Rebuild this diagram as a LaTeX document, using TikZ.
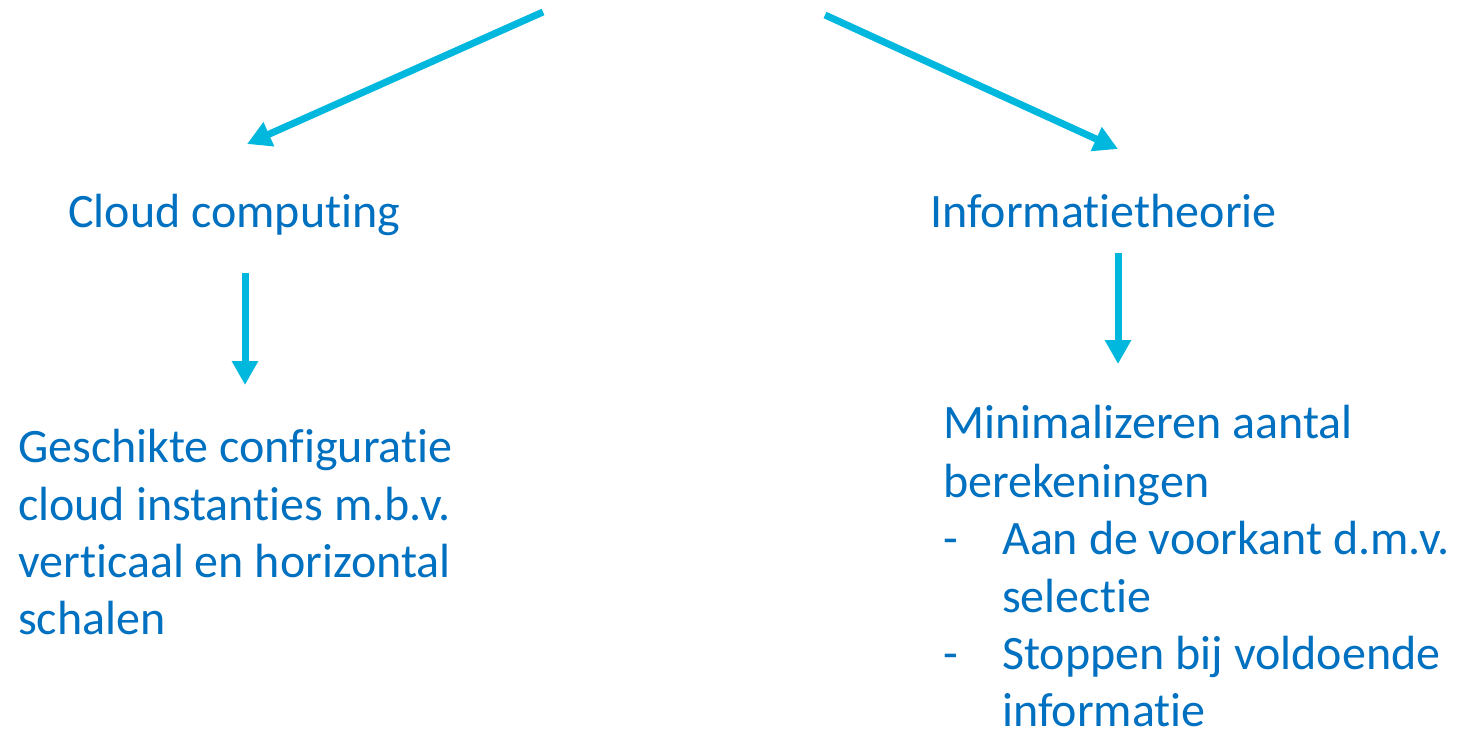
\documentclass[tikz,border=0pt]{standalone}
\usepackage{fontspec}
\setmainfont{Carlito}[Ligatures=NoCommon]
\usetikzlibrary{arrows.meta}
\definecolor{arrowcyan}{RGB}{0,183,222}
\definecolor{textblue}{RGB}{0,112,192}
\begin{document}
\begin{tikzpicture}[x=1pt,y=-1pt,
  txt/.style={anchor=base west,inner sep=0pt,text=textblue,font=\fontsize{48}{56}\selectfont},
  conn/.style={draw=arrowcyan,line width=7pt,-{Triangle[width=25pt,length=24pt]}}]
\useasboundingbox (0,0) rectangle (1458,729);
\coordinate (s1) at (543,12);
\coordinate (t1) at (247,144);
\coordinate (s2) at (825,15);
\coordinate (t2) at (1118,149);
\coordinate (s3) at (245,273);
\coordinate (t3) at (245,385);
\coordinate (s4) at (1118,253);
\coordinate (t4) at (1118,364);
\draw[conn] (s1) -- (t1);
\draw[conn] (s2) -- (t2);
\draw[conn] (s3) -- (t3);
\draw[conn] (s4) -- (t4);
\node[txt] (cc) at (68,227) {Cloud computing};
\node[txt] (it) at (930,227) {Informatietheorie};
\node[txt] (l1) at (18,462) {Geschikte configuratie};
\node[txt] (l2) at (18,520) {cloud instanties m.b.v.};
\node[txt] (l3) at (18,577) {verticaal en horizontal};
\node[txt] (l4) at (18,634) {schalen};
\node[txt] (r1) at (943,438) {Minimalizeren aantal};
\node[txt] (r2) at (943,497) {berekeningen};
\node[txt] (d1) at (943,554) {-};
\node[txt] (r3) at (1002,554) {Aan de voorkant d.m.v.};
\node[txt] (r4) at (1002,612) {selectie};
\node[txt] (d2) at (943,669) {-};
\node[txt] (r5) at (1002,669) {Stoppen bij voldoende};
\node[txt] (r6) at (1002,726) {informatie};
\end{tikzpicture}
\end{document}
